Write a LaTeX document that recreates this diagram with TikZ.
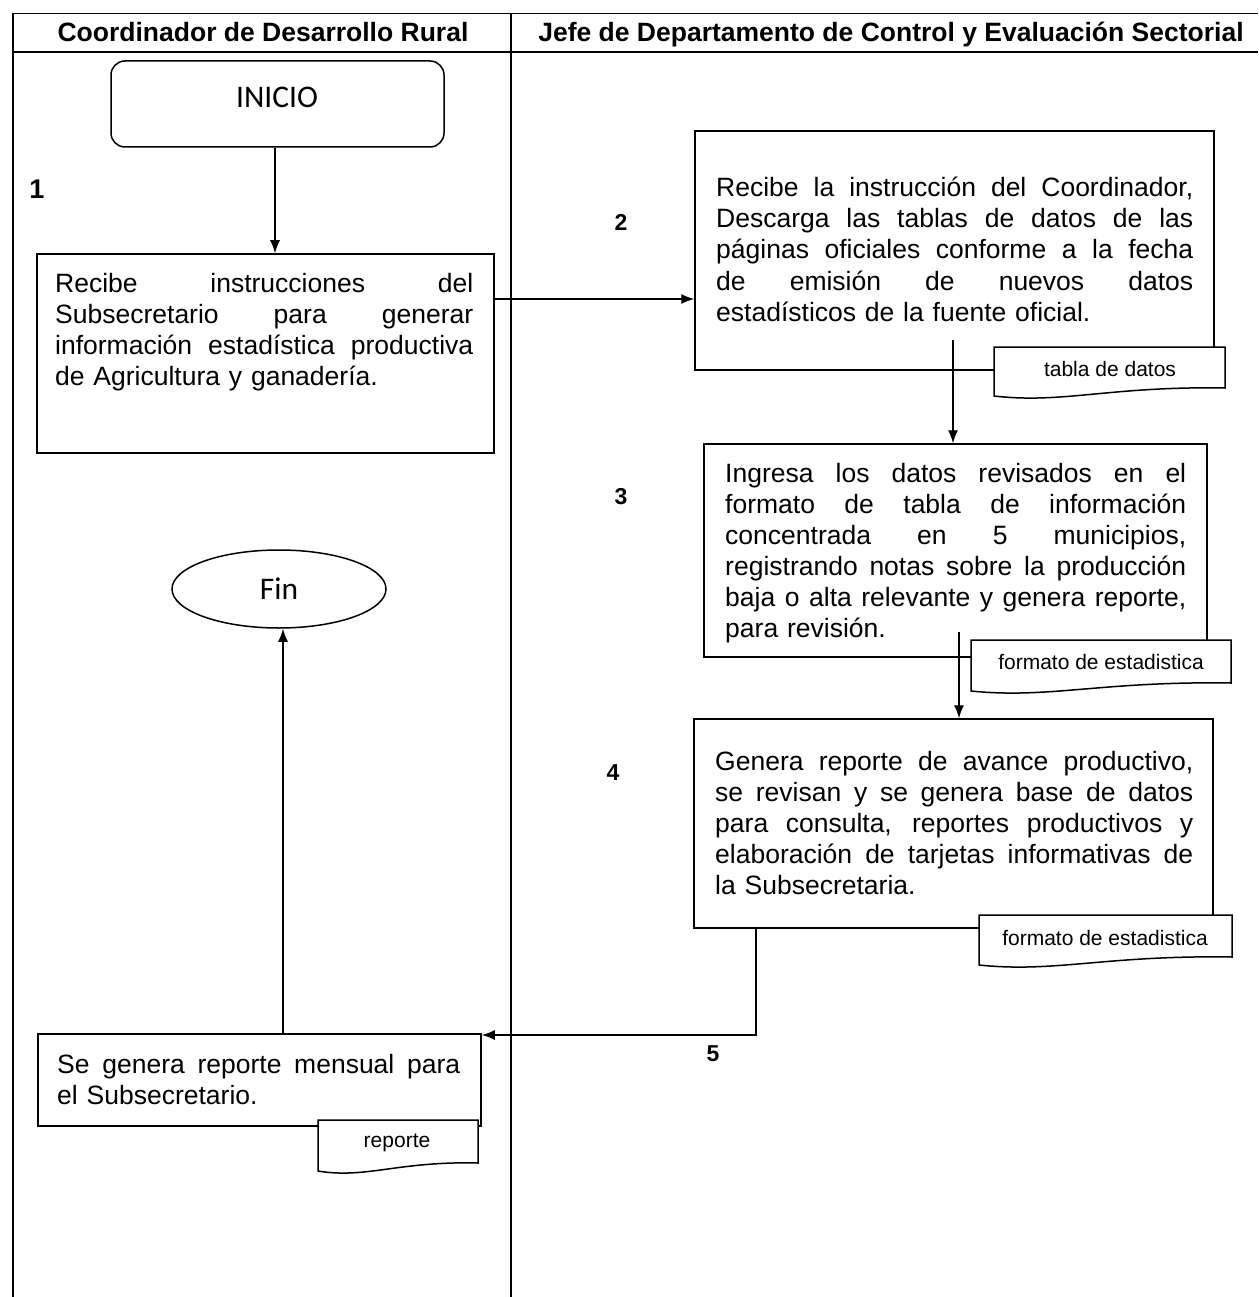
\documentclass[tikz,border=0pt]{standalone}
\usepackage{fontspec}
\setmainfont{Liberation Sans}
\newfontfamily\calibfont{Carlito}
\usetikzlibrary{arrows.meta,shapes.geometric}

% one justified line of a step text: width, words
\newcommand{\jline}[2]{\makebox[#1][s]{\spaceskip=0.278em plus 1fil\relax#2}}

% document symbol: left, top, right, bottom (right side)
\newcommand{\docsheet}[4]{%
  \draw[docline] (#1,#2) -- (#3,#2) -- (#3,#4)
    .. controls ({#1+0.5*(#3-#1)},{#4-2}) and ({#1+0.3*(#3-#1)},{#4+16}) .. (#1,{#4+8}) -- cycle;}

\tikzset{
  lane/.style={line width=1.6pt},
  lanehead/.style={anchor=base, font=\bfseries\fontsize{26.5}{31}\selectfont, inner sep=0pt},
  procbox/.style={draw, line width=1.5pt, fill=white, inner sep=0pt},
  proctext/.style={anchor=base west, inner sep=0pt, align=left, font=\fontsize{26.5}{31}\selectfont},
  docline/.style={draw, line width=1.5pt, fill=white},
  doctext/.style={font=\fontsize{21}{25}\selectfont, inner sep=0pt},
  stepnum/.style={font=\bfseries\fontsize{23}{27}\selectfont, inner sep=0pt},
  flow/.style={line width=1.4pt, ->},
}

\begin{document}
\begin{tikzpicture}[x=1pt, y=-1pt, >={Latex[length=13pt,width=10pt]}]
    \useasboundingbox (0,0) rectangle (1258,1297);

    % Lanes
    \draw[lane] (13,1297) -- (13,13.5) -- (1258,13.5);
    \draw[lane] (13,52) -- (1258,52);
    \draw[lane] (511,13.5) -- (511,1297);
    \node[lanehead] (h1) at (263,42) {Coordinador de Desarrollo Rural};
    \node[lanehead] (h2) at (891,42) {Jefe de Departamento de Control y Evaluación Sectorial};

    % Start and end
    \node[procbox, rounded corners=14pt, minimum width=333pt, minimum height=86pt] (ini) at (277.5,104) {};
    \node[font=\calibfont\fontsize{31.5}{36}\selectfont, inner sep=0pt] (initxt) at (277,97) {INICIO};
    \node[procbox, ellipse, minimum width=214pt, minimum height=78pt,
          font=\calibfont\fontsize{31.5}{36}\selectfont] (fin) at (279,589) {Fin};

    % Steps
    \node[procbox, minimum width=457pt, minimum height=199pt] (b1) at (265.5,353.5) {};
    \node[procbox, minimum width=519pt, minimum height=239pt] (b2) at (954.5,250.5) {};
    \node[procbox, minimum width=503pt, minimum height=213pt] (b3) at (955.5,550.5) {};
    \node[procbox, minimum width=519pt, minimum height=209pt] (b4) at (953.5,823.5) {};
    \node[procbox, minimum width=443pt, minimum height=92pt] (b5) at (259.5,1080) {};

    \node[proctext, text width=418pt] (t1) at (55,292)
      {\jline{418pt}{Recibe instrucciones del}\\
       \jline{418pt}{Subsecretario para generar}\\
       \jline{418pt}{información estadística productiva}\\
       de Agricultura y ganadería.};
    \node[proctext, text width=477pt] (t2) at (716,197)
      {\jline{477pt}{Recibe la instrucción del Coordinador,}\\
       \jline{477pt}{Descarga las tablas de datos de las}\\
       \jline{477pt}{páginas oficiales conforme a la fecha}\\
       \jline{477pt}{de emisión de nuevos datos}\\
       estadísticos de la fuente oficial.};
    \node[proctext, text width=461pt] (t3) at (725,482)
      {\jline{461pt}{Ingresa los datos revisados en el}\\
       \jline{461pt}{formato de tabla de información}\\
       \jline{461pt}{concentrada en 5 municipios,}\\
       \jline{461pt}{registrando notas sobre la producción}\\
       \jline{461pt}{baja o alta relevante y genera reporte,}\\
       para revisión.};
    \node[proctext, text width=478pt] (t4) at (715,770)
      {\jline{478pt}{Genera reporte de avance productivo,}\\
       \jline{478pt}{se revisan y se genera base de datos}\\
       \jline{478pt}{para consulta, reportes productivos y}\\
       \jline{478pt}{elaboración de tarjetas informativas de}\\
       la Subsecretaria.};
    \node[proctext, text width=403pt] (t5) at (57,1073)
      {\jline{403pt}{Se genera reporte mensual para}\\
       el Subsecretario.};

    % Step numbers
    \node[stepnum, font=\bfseries\fontsize{27}{31}\selectfont] (n1) at (37,189) {1};
    \node[stepnum] (n2) at (621,222) {2};
    \node[stepnum] (n3) at (621,497) {3};
    \node[stepnum] (n4) at (613,773) {4};
    \node[stepnum] (n5) at (713,1054) {5};

    % Flow
    \coordinate (s2) at (953,340);
    \coordinate (s3) at (959,632);
    \draw[flow] (ini.south -| 275,0) -- (b1.north -| 275,0);
    \draw[flow] (b1.east |- 0,299) -- (b2.west |- 0,299);
    \draw[flow] (s2) -- (s2 |- b3.north);
    \draw[flow] (s3) -- (s3 |- b4.north);
    \draw[flow] (b4.south -| 756,0) |- (b5.east |- 0,1035);
    \draw[flow] (b5.north -| 283,0) -- (fin.south -| 283,0);

    % Documents
    \docsheet{994}{347}{1225}{388}
    \node[doctext] (d1) at (1110,369) {tabla de datos};
    \docsheet{971}{640}{1231}{683}
    \node[doctext] (d2) at (1101,662) {formato de estadistica};
    \docsheet{979}{915}{1232}{957}
    \node[doctext] (d3) at (1105,938) {formato de estadistica};
    \docsheet{318}{1120}{478}{1163}
    \node[doctext] (d4) at (397,1143) {reporte};

\end{tikzpicture}
\end{document}
